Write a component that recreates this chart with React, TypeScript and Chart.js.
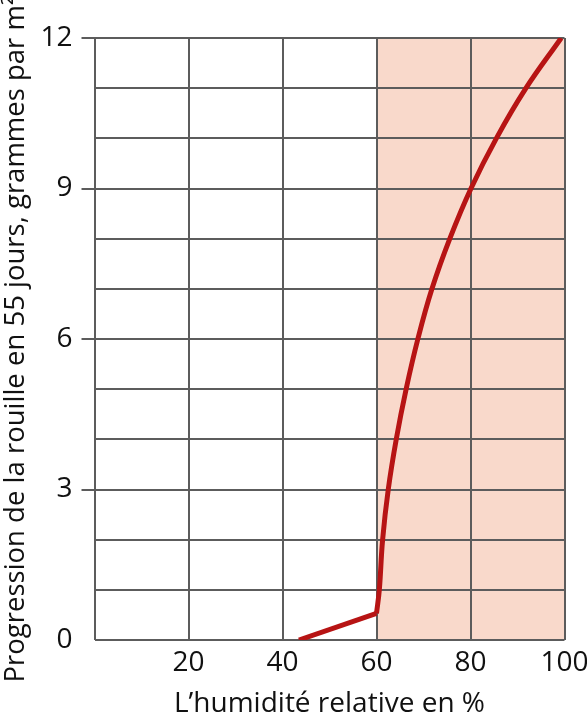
import React, { useEffect, useRef } from "react";
import { Chart, registerables } from "chart.js";

Chart.register(...registerables);

// Data
const lowHumidityX = [43.5, 60];
const lowHumidityY = [0, 0.53];
const rustCurveX = [60, 60.6, 61.3, 62.5, 64.2, 66.3, 68.8, 71.8, 75.6, 80.1, 85.5, 91.8, 99.3];
const rustCurveY = [0.53, 1, 2, 3, 4, 5, 6, 7, 8, 9, 10, 11, 12];
const humidZone = [60, 100];
const xTickValues = [20, 40, 60, 80, 100];
const yLabelStep = 3;
const yTitle = "Progression de la rouille en 55 jours, grammes par m²";
const xTitle = "L’humidité relative en %";

const GRID = "#5c5c5c";
const RED = "#b71414";
const SHADE = "#f9d9cb";
const FONT = "'Open Sans', sans-serif";

const shadePlugin = {
  id: "shadeZone",
  beforeDraw(chart: any) {
    const { ctx, chartArea, scales } = chart;
    const x0 = scales.x.getPixelForValue(humidZone[0]);
    const x1 = scales.x.getPixelForValue(humidZone[1]);
    ctx.save();
    ctx.fillStyle = SHADE;
    ctx.fillRect(x0, chartArea.top, x1 - x0, chartArea.bottom - chartArea.top);
    ctx.restore();
  },
};

export default function App() {
  const ref = useRef<HTMLCanvasElement | null>(null);
  useEffect(() => {
    if (!ref.current) return;
    const chart = new Chart(ref.current, {
      type: "scatter",
      data: {
        datasets: [
          {
            data: lowHumidityX.map((x, i) => ({ x, y: lowHumidityY[i] })),
            showLine: true,
            borderColor: RED,
            borderWidth: 5,
            pointRadius: 0,
            tension: 0,
            borderCapStyle: "butt",
          },
          {
            data: rustCurveX.map((x, i) => ({ x, y: rustCurveY[i] })),
            showLine: true,
            borderColor: RED,
            borderWidth: 5,
            pointRadius: 0,
            tension: 0.4,
            capBezierPoints: false,
            borderCapStyle: "butt",
          },
        ],
      },
      options: {
        animation: false,
        responsive: false,
        maintainAspectRatio: false,
        elements: { line: { capBezierPoints: false } },
        layout: { padding: { left: 0, right: 22.5, top: 38, bottom: 0 } },
        plugins: { legend: { display: false }, tooltip: { enabled: false } },
        scales: {
          x: {
            type: "linear",
            min: 0,
            max: 100,
            afterFit: (s: any) => {
              s.height = 84;
              s.paddingRight = 0;
              s.paddingLeft = 0;
            },
            afterBuildTicks: (s: any) => {
              s.ticks = [0, ...xTickValues].map((v) => ({ value: v }));
            },
            ticks: {
              callback: (v: any) => (v === 0 ? "" : String(v)),
              font: { family: FONT, size: 28 },
              color: "#111",
              padding: 6,
              maxRotation: 0,
            },
            grid: { color: GRID, lineWidth: 2, drawTicks: false },
            border: { display: false },
            title: {
              display: true,
              text: xTitle,
              font: { family: FONT, size: 28 },
              color: "#111",
              padding: { top: 0, bottom: 3 },
            },
          },
          y: {
            type: "linear",
            min: 0,
            max: 12,
            afterFit: (s: any) => {
              s.width = 94.5;
              s.paddingTop = 0;
              s.paddingBottom = 0;
            },
            ticks: {
              stepSize: 1,
              callback: (v: any) => (v % yLabelStep === 0 ? String(v) : ""),
              font: { family: FONT, size: 28 },
              color: "#111",
              padding: 9,
            },
            grid: {
              color: GRID,
              lineWidth: 2,
              tickLength: 13,
              tickColor: (c: any) =>
                c.tick && c.tick.value % yLabelStep === 0 && c.tick.value !== 0 ? GRID : "rgba(0,0,0,0)",
            },
            border: { display: false },
            title: {
              display: true,
              text: yTitle,
              font: { family: FONT, size: 27.5 },
              color: "#111",
              padding: { top: 0, bottom: 0 },
            },
          },
        },
      },
      plugins: [shadePlugin],
    } as any);
    return () => chart.destroy();
  }, []);
  return (
    <div style={{ position: "absolute", left: 0, top: 0, width: 587, height: 724, background: "#fff" }}>
      <canvas ref={ref} width={587} height={724} style={{ display: "block" }} />
    </div>
  );
}
